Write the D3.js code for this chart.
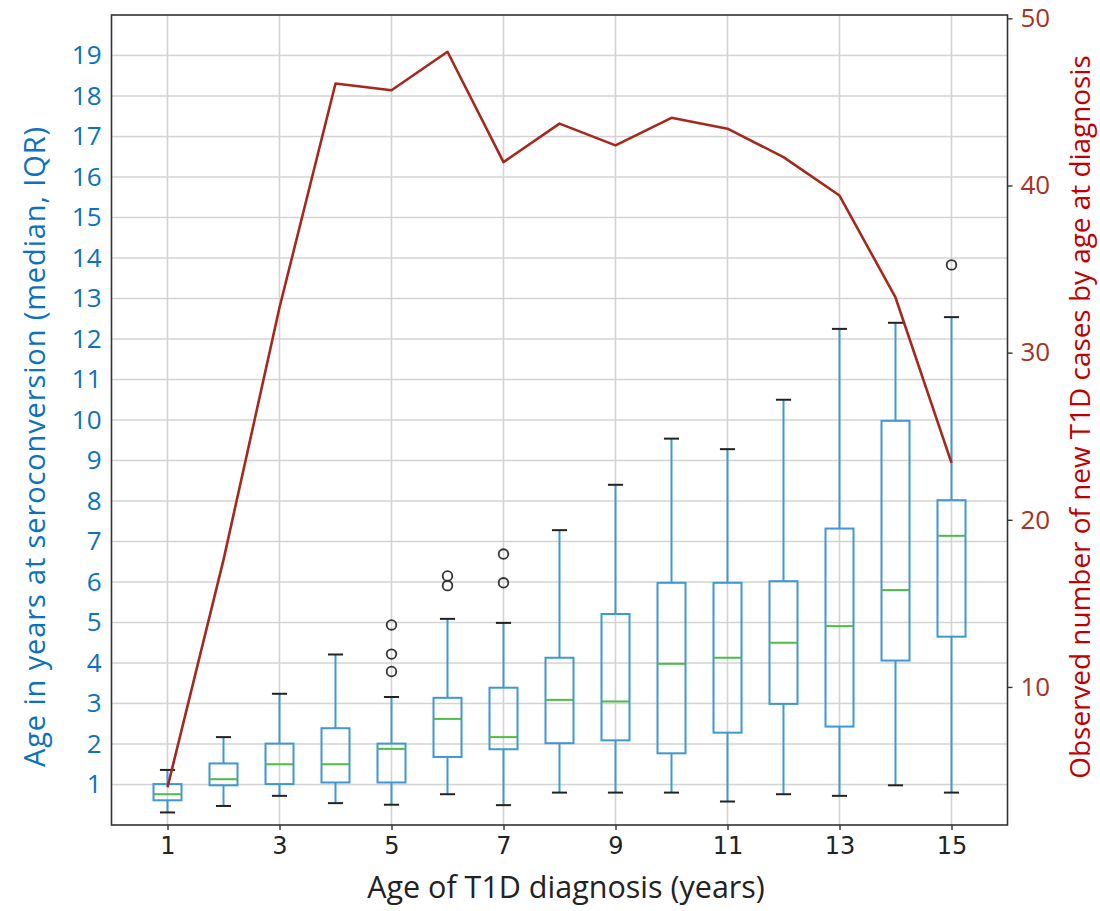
<!DOCTYPE html>
<html>
<head>
<meta charset="utf-8">
<script src="https://cdn.jsdelivr.net/npm/d3@7"></script>
<style>
  html, body { margin: 0; padding: 0; background: #fff; }
  svg { display: block; }
</style>
</head>
<body>
<svg id="chart" width="1100" height="911"></svg>
<script>
// ---- data ----
const categories = [1, 2, 3, 4, 5, 6, 7, 8, 9, 10, 11, 12, 13, 14, 15];
const whiskerLow  = [0.31, 0.47, 0.72, 0.54, 0.50, 0.76, 0.49, 0.80, 0.80, 0.80, 0.58, 0.76, 0.72, 0.98, 0.80];
const q1Values    = [0.61, 0.98, 1.01, 1.05, 1.05, 1.68, 1.87, 2.02, 2.09, 1.77, 2.28, 2.99, 2.43, 4.06, 4.65];
const medianValues= [0.76, 1.13, 1.50, 1.50, 1.88, 2.62, 2.17, 3.09, 3.05, 3.98, 4.13, 4.50, 4.91, 5.80, 7.14];
const q3Values    = [1.01, 1.52, 2.01, 2.39, 2.01, 3.14, 3.39, 4.13, 5.21, 5.98, 5.98, 6.02, 7.32, 9.98, 8.02];
const whiskerHigh = [1.36, 2.17, 3.24, 4.21, 3.16, 5.09, 4.99, 7.28, 8.40, 9.54, 9.28, 10.50, 12.25, 12.40, 12.54];
const outlierValues = [[], [], [], [], [4.94, 4.22, 3.79], [6.15, 5.91], [6.69, 5.98], [], [], [], [], [], [], [], [13.83]];
const newCases    = [4.0, 17.6, 32.7, 46.1, 45.7, 48.0, 41.4, 43.7, 42.4, 44.05, 43.4, 41.7, 39.4, 33.3, 23.4];
const xTickLabels = [1, 3, 5, 7, 9, 11, 13, 15];
const leftTicks   = [1, 2, 3, 4, 5, 6, 7, 8, 9, 10, 11, 12, 13, 14, 15, 16, 17, 18, 19];
const rightTicks  = [10, 20, 30, 40, 50];

// ---- layout ----
const L = 111.5, R = 1007.5, T = 15, B = 825;
const svg = d3.select("#chart");

const x = d3.scaleLinear().domain([0, 16]).range([L, R]);
const yL = d3.scaleLinear().domain([0, 20]).range([B, T]);
const yR = d3.scaleLinear().domain([1.74, 50.2]).range([B, T]);

const step = x(2) - x(1);
const boxW = step * 0.5;
const capW = step * 0.27;

// grid
const grid = svg.append("g");
grid.selectAll("line.h").data(leftTicks).enter().append("line")
  .attr("x1", L).attr("x2", R)
  .attr("y1", d => yL(d)).attr("y2", d => yL(d))
  .attr("stroke", "#d3d3d3").attr("stroke-width", 1.6);
grid.selectAll("line.v").data(xTickLabels).enter().append("line")
  .attr("y1", T).attr("y2", B)
  .attr("x1", d => x(d)).attr("x2", d => x(d))
  .attr("stroke", "#d3d3d3").attr("stroke-width", 1.6);

// boxes
const boxColor = "#3d98d3";
const boxes = svg.append("g");
categories.forEach((c, i) => {
  const cx = x(c);
  const g = boxes.append("g");
  g.append("line").attr("x1", cx).attr("x2", cx)
    .attr("y1", yL(q3Values[i])).attr("y2", yL(whiskerHigh[i]))
    .attr("stroke", boxColor).attr("stroke-width", 2);
  g.append("line").attr("x1", cx).attr("x2", cx)
    .attr("y1", yL(q1Values[i])).attr("y2", yL(whiskerLow[i]))
    .attr("stroke", boxColor).attr("stroke-width", 2);
  [whiskerHigh[i], whiskerLow[i]].forEach(v => {
    g.append("line").attr("x1", cx - capW / 2).attr("x2", cx + capW / 2)
      .attr("y1", yL(v)).attr("y2", yL(v))
      .attr("stroke", "#222").attr("stroke-width", 2);
  });
  g.append("rect")
    .attr("x", cx - boxW / 2).attr("width", boxW)
    .attr("y", yL(q3Values[i])).attr("height", yL(q1Values[i]) - yL(q3Values[i]))
    .attr("fill", "none").attr("stroke", boxColor).attr("stroke-width", 2);
  g.append("line").attr("x1", cx - boxW / 2).attr("x2", cx + boxW / 2)
    .attr("y1", yL(medianValues[i])).attr("y2", yL(medianValues[i]))
    .attr("stroke", "#4cbb47").attr("stroke-width", 2);
  outlierValues[i].forEach(v => {
    g.append("circle").attr("cx", cx).attr("cy", yL(v)).attr("r", 4.8)
      .attr("fill", "none").attr("stroke", "#333").attr("stroke-width", 1.8);
  });
});

// line (right axis)
const line = d3.line().x((d, i) => x(categories[i])).y(d => yR(d));
svg.append("path").datum(newCases)
  .attr("d", line).attr("fill", "none")
  .attr("stroke", "#a5281e").attr("stroke-width", 2.6)
  .attr("stroke-linejoin", "round");

// frame
svg.append("rect").attr("x", L).attr("y", T).attr("width", R - L).attr("height", B - T)
  .attr("fill", "none").attr("stroke", "#333").attr("stroke-width", 1.6);

// x axis
const xAxis = svg.append("g").attr("transform", `translate(0,${B})`)
  .call(d3.axisBottom(x).tickValues(xTickLabels).tickSize(5).tickPadding(7).tickFormat(d3.format("d")));
xAxis.select(".domain").remove();
xAxis.selectAll("line").attr("stroke", "#333").attr("stroke-width", 1.4);
xAxis.selectAll("text").attr("font-family", "DejaVu Sans, sans-serif").attr("font-size", 24).attr("fill", "#222");

// left axis
const lAxis = svg.append("g").attr("transform", `translate(${L},0)`)
  .call(d3.axisLeft(yL).tickValues(leftTicks).tickSize(0).tickPadding(10).tickFormat(d3.format("d")));
lAxis.select(".domain").remove();
lAxis.selectAll("text").attr("font-family", "Open Sans, sans-serif").attr("font-size", 26).attr("fill", "#0b72bd");

// right axis
const rAxis = svg.append("g").attr("transform", `translate(${R},0)`)
  .call(d3.axisRight(yR).tickValues(rightTicks).tickSize(5).tickPadding(8).tickFormat(d3.format("d")));
rAxis.select(".domain").remove();
rAxis.selectAll("line").attr("stroke", "#333").attr("stroke-width", 1.4);
rAxis.selectAll("text").attr("font-family", "Open Sans, sans-serif").attr("font-size", 26).attr("fill", "#a33325");

// titles
svg.append("text").attr("x", 566).attr("y", 898)
  .attr("text-anchor", "middle").attr("font-family", "Open Sans, sans-serif")
  .attr("font-size", 30.5).attr("fill", "#222").text("Age of T1D diagnosis (years)");
svg.append("text").attr("transform", `translate(45,447) rotate(-90)`)
  .attr("text-anchor", "middle").attr("font-family", "Open Sans, sans-serif")
  .attr("font-size", 29).attr("textLength", 640).attr("lengthAdjust", "spacing")
  .attr("fill", "#0b72bd").text("Age in years at seroconversion (median, IQR)");
svg.append("text").attr("transform", `translate(1090,417) rotate(-90)`)
  .attr("text-anchor", "middle").attr("font-family", "Open Sans, sans-serif")
  .attr("font-size", 27.9).attr("fill", "#c00000").text("Observed number of new T1D cases by age at diagnosis");
</script>
</body>
</html>
